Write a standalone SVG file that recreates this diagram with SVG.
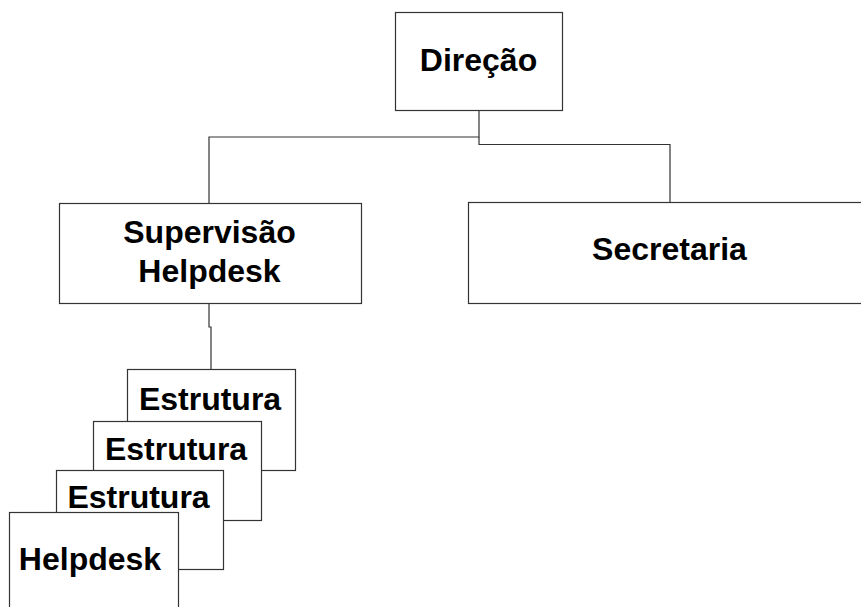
<svg xmlns="http://www.w3.org/2000/svg" width="861" height="607" viewBox="0 0 861 607">
<style>
.box{fill:#fff;stroke:#333;stroke-width:1.2}
.t{font-family:"Liberation Sans",Arial,sans-serif;font-weight:bold;font-size:32px;fill:#000;text-anchor:middle}
.c{fill:none;stroke:#333;stroke-width:1.2}
</style>
<rect width="861" height="607" fill="#fff"/>
<g id="connectors">
<polyline class="c" points="479,110 479,137 209,137 209,203"/>
<polyline class="c" points="479,137 479,144.5 670,144.5 670,202"/>
<polyline class="c" points="209,303 209,327 211,327 211,369"/>
</g>
<g id="direcao"><rect class="box" x="395.5" y="12.5" width="167" height="98"/><text class="t" x="478.5" y="71">Direção</text></g>
<g id="supervisao"><rect class="box" x="59.5" y="203.5" width="302" height="100"/><text class="t" x="209.5" y="243">Supervisão</text><text class="t" x="209.5" y="282">Helpdesk</text></g>
<g id="secretaria"><rect class="box" x="468.5" y="202.5" width="404" height="101"/><text class="t" x="669.5" y="260">Secretaria</text></g>
<g id="estrutura1"><rect class="box" x="127.5" y="369.5" width="168" height="101"/><text class="t" x="210" y="410">Estrutura</text></g>
<g id="estrutura2"><rect class="box" x="93.5" y="421.5" width="168" height="99"/><text class="t" x="176" y="460">Estrutura</text></g>
<g id="estrutura3"><rect class="box" x="56.5" y="470.5" width="167" height="99"/><text class="t" x="138.5" y="508">Estrutura</text></g>
<g id="helpdesk"><rect class="box" x="9.5" y="512.5" width="169" height="100"/><text class="t" x="90" y="570">Helpdesk</text></g>
</svg>
